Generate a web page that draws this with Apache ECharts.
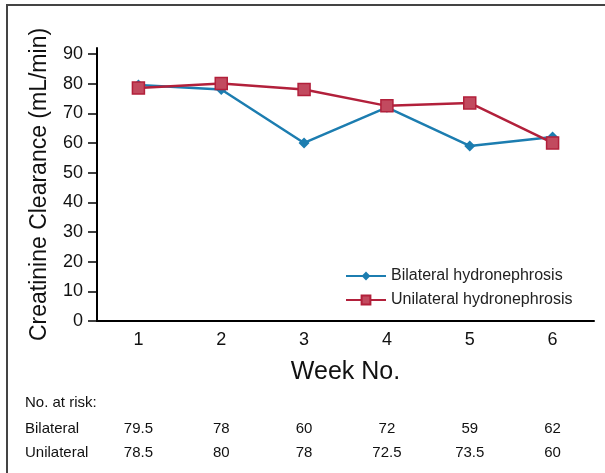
<!DOCTYPE html>
<html>
<head>
<meta charset="utf-8">
<script src="https://cdn.jsdelivr.net/npm/echarts@6/dist/echarts.min.js"></script>
<style>
  html, body { margin: 0; padding: 0; background: #fff; }
  #main { width: 605px; height: 473px; }
</style>
</head>
<body>
<div id="main"></div>
<script>
  // week numbers and mean creatinine clearance per group
  var weeks = ['1', '2', '3', '4', '5', '6'];
  var bilateral = [79.5, 78, 60, 72, 59, 62];
  var unilateral = [78.5, 80, 78, 72.5, 73.5, 60];
  var yTicks = [0, 10, 20, 30, 40, 50, 60, 70, 80, 90];

  var font = 'Liberation Sans';
  var blue = '#1c7db0';
  var red = '#b2203b';

  var chart = echarts.init(document.getElementById('main'));
  chart.setOption({
    animation: false,
    textStyle: { fontFamily: font },
    grid: { left: 97, right: 11, top: 48, bottom: 152, containLabel: false },
    legend: {
      orient: 'vertical',
      left: 340,
      top: 263,
      itemWidth: 40,
      itemHeight: 11,
      itemGap: 8,
      textStyle: { fontSize: 16, color: '#222', fontFamily: font },
      data: ['Bilateral hydronephrosis', 'Unilateral hydronephrosis']
    },
    xAxis: [{
      type: 'category',
      data: weeks,
      boundaryGap: true,
      name: 'Week No.',
      nameLocation: 'middle',
      nameGap: 39,
      nameTextStyle: { fontSize: 25, color: '#111' },
      axisLine: { lineStyle: { color: '#000', width: 2 } },
      axisTick: { show: false },
      axisLabel: { fontSize: 18, color: '#111', margin: 10 }
    }, {
      type: 'category',
      data: bilateral.map(String),
      position: 'bottom',
      axisLine: { show: false },
      axisTick: { show: false },
      axisLabel: { fontSize: 15, color: '#111', margin: 100 }
    }, {
      type: 'category',
      data: unilateral.map(String),
      position: 'bottom',
      axisLine: { show: false },
      axisTick: { show: false },
      axisLabel: { fontSize: 15, color: '#111', margin: 124 }
    }],
    yAxis: {
      type: 'value',
      min: 0,
      max: 92,
      interval: 10,
      name: 'Creatinine Clearance (mL/min)',
      nameLocation: 'middle',
      nameGap: 46,
      nameTextStyle: { fontSize: 23, color: '#111' },
      splitLine: { show: false },
      axisLine: { show: true, lineStyle: { color: '#000', width: 2 } },
      axisTick: { show: true, length: 9, customValues: yTicks, lineStyle: { color: '#000', width: 1.5 } },
      axisLabel: { fontSize: 18, color: '#111', margin: 14, customValues: yTicks }
    },
    series: [{
      name: 'Bilateral hydronephrosis',
      type: 'line',
      data: bilateral,
      symbol: 'diamond',
      symbolSize: 11,
      lineStyle: { color: blue, width: 2.5 },
      itemStyle: { color: blue },
      z: 2
    }, {
      name: 'Unilateral hydronephrosis',
      type: 'line',
      data: unilateral,
      symbol: 'rect',
      symbolSize: 12,
      lineStyle: { color: red, width: 2.5 },
      itemStyle: { color: '#c24a5f', borderColor: red, borderWidth: 1.5 },
      z: 3
    }],
    graphic: [{
      type: 'rect',
      shape: { x: 7, y: 5, width: 700, height: 600 },
      style: { fill: 'none', stroke: '#444', lineWidth: 2 }
    }, {
      type: 'text', left: 25, top: 395,
      style: { text: 'No. at risk:', fontSize: 15, fill: '#111', fontFamily: font }
    }, {
      type: 'text', left: 25, top: 421,
      style: { text: 'Bilateral', fontSize: 15, fill: '#111', fontFamily: font }
    }, {
      type: 'text', left: 25, top: 445,
      style: { text: 'Unilateral', fontSize: 15, fill: '#111', fontFamily: font }
    }]
  });
</script>
</body>
</html>
